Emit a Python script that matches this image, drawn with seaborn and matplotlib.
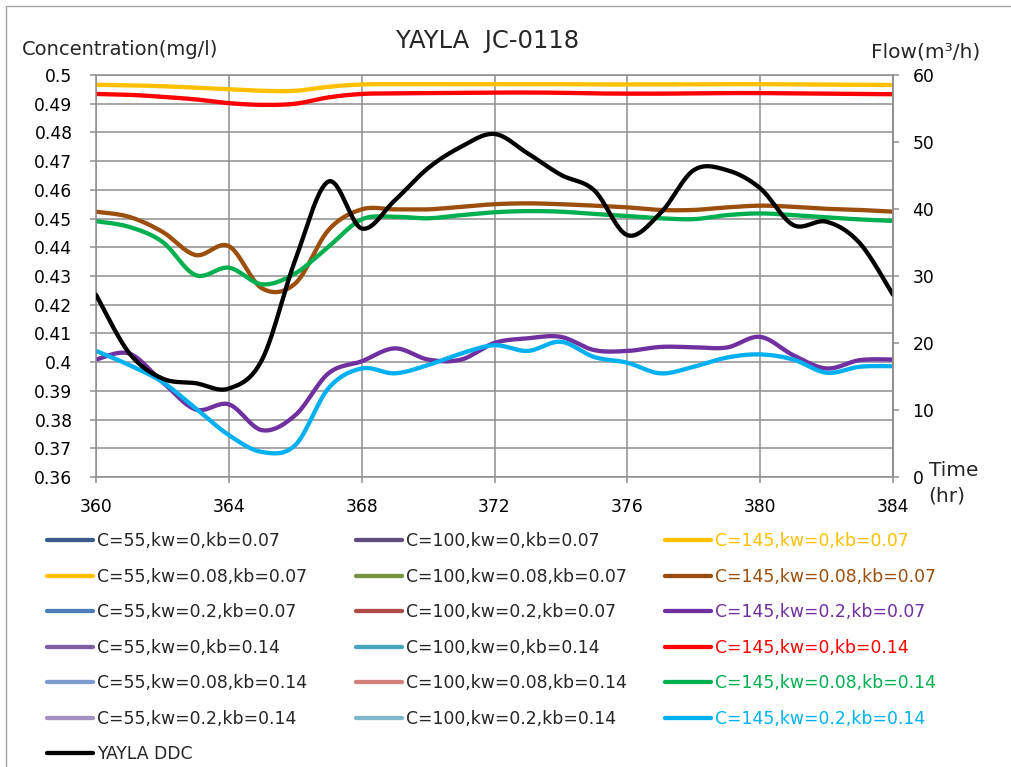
import numpy as np
import matplotlib
matplotlib.use("Agg")
import matplotlib.pyplot as plt
from matplotlib.lines import Line2D
from matplotlib.patches import Rectangle
import seaborn as sns

# ---- data -----------------------------------------------------------------
hours = list(range(360, 385))

c145_kw0_kb007 = [0.4966, 0.4964, 0.4961, 0.4956, 0.4951, 0.4945, 0.4945, 0.4959, 0.4967,
                  0.4968, 0.4968, 0.4968, 0.4968, 0.4968, 0.4968, 0.4967, 0.4967, 0.4967,
                  0.4967, 0.4968, 0.4968, 0.4967, 0.4966, 0.4966, 0.4965]
c145_kw008_kb007 = [0.4524, 0.4506, 0.4454, 0.4373, 0.4404, 0.4257, 0.4274, 0.4460, 0.4532,
                    0.4532, 0.4532, 0.4541, 0.4550, 0.4553, 0.4550, 0.4545, 0.4539, 0.4530,
                    0.4530, 0.4539, 0.4545, 0.4541, 0.4534, 0.4530, 0.4524]
c145_kw02_kb007 = [0.4009, 0.4030, 0.3931, 0.3835, 0.3853, 0.3763, 0.3815, 0.3961, 0.4003,
                   0.4048, 0.4009, 0.4009, 0.4067, 0.4083, 0.4088, 0.4042, 0.4039, 0.4053,
                   0.4052, 0.4051, 0.4088, 0.4024, 0.3978, 0.4007, 0.4009]
c145_kw0_kb014 = [0.4934, 0.4931, 0.4924, 0.4915, 0.4902, 0.4896, 0.4900, 0.4922, 0.4934,
                  0.4936, 0.4937, 0.4938, 0.4939, 0.4939, 0.4938, 0.4936, 0.4935, 0.4935,
                  0.4936, 0.4937, 0.4937, 0.4936, 0.4935, 0.4934, 0.4933]
c145_kw008_kb014 = [0.4491, 0.4471, 0.4419, 0.4303, 0.4329, 0.4271, 0.4309, 0.4402, 0.4497,
                    0.4506, 0.4501, 0.4512, 0.4522, 0.4526, 0.4524, 0.4516, 0.4509, 0.4501,
                    0.4498, 0.4512, 0.4518, 0.4512, 0.4504, 0.4497, 0.4492]
c145_kw02_kb014 = [0.4039, 0.3990, 0.3931, 0.3839, 0.3746, 0.3687, 0.3711, 0.3909, 0.3978,
                   0.3961, 0.3990, 0.4030, 0.4059, 0.4039, 0.4071, 0.4018, 0.3998, 0.3961,
                   0.3984, 0.4016, 0.4027, 0.4009, 0.3963, 0.3984, 0.3986]
yayla_ddc_flow = [27.2, 18.5, 14.7, 14.0, 13.2, 17.5, 32.4, 44.1, 37.1, 41.3, 46.1, 49.3,
                  51.2, 48.3, 45.1, 42.8, 36.1, 39.4, 45.8, 45.8, 43.1, 37.6, 38.1, 34.9, 27.2]

conc_ticks = [0.36, 0.37, 0.38, 0.39, 0.40, 0.41, 0.42, 0.43, 0.44, 0.45, 0.46, 0.47, 0.48, 0.49, 0.50]
conc_tick_labels = ["0.36", "0.37", "0.38", "0.39", "0.4", "0.41", "0.42", "0.43", "0.44",
                    "0.45", "0.46", "0.47", "0.48", "0.49", "0.5"]
flow_ticks = [0, 10, 20, 30, 40, 50, 60]
time_ticks = [360, 364, 368, 372, 376, 380, 384]

labels_c55 = ["C=55,kw=0,kb=0.07", "C=55,kw=0.08,kb=0.07", "C=55,kw=0.2,kb=0.07",
              "C=55,kw=0,kb=0.14", "C=55,kw=0.08,kb=0.14", "C=55,kw=0.2,kb=0.14"]
labels_c100 = ["C=100,kw=0,kb=0.07", "C=100,kw=0.08,kb=0.07", "C=100,kw=0.2,kb=0.07",
               "C=100,kw=0,kb=0.14", "C=100,kw=0.08,kb=0.14", "C=100,kw=0.2,kb=0.14"]
labels_c145 = ["C=145,kw=0,kb=0.07", "C=145,kw=0.08,kb=0.07", "C=145,kw=0.2,kb=0.07",
               "C=145,kw=0,kb=0.14", "C=145,kw=0.08,kb=0.14", "C=145,kw=0.2,kb=0.14"]
label_ddc = "YAYLA DDC"

colors_c55 = ["#3B5B8C", "#FFC000", "#4A7EBB", "#7D60A0", "#7F9BCF", "#A391C0"]
colors_c100 = ["#5F4B80", "#77933C", "#B0494A", "#46A5BF", "#D3807D", "#7FB8CB"]
colors_c145 = ["#FFC000", "#9C4F0C", "#7030A0", "#FF0000", "#00B050", "#00B0F0"]

series_c145 = [c145_kw0_kb007, c145_kw008_kb007, c145_kw02_kb007,
               c145_kw0_kb014, c145_kw008_kb014, c145_kw02_kb014]


def smooth(x, y, steps=24):
    """Smoothed line through the points (cubic Bezier, Catmull-Rom tangents)."""
    x = np.asarray(x, float)
    y = np.asarray(y, float)
    px = np.concatenate([[x[0]], x, [x[-1]]])
    py = np.concatenate([[y[0]], y, [y[-1]]])
    t = np.linspace(0, 1, steps, endpoint=False)
    xs, ys = [], []
    for i in range(1, len(px) - 2):
        for p, out in ((px, xs), (py, ys)):
            p0, p1, p2, p3 = p[i - 1], p[i], p[i + 1], p[i + 2]
            b1 = p1 + (p2 - p0) / 6.0
            b2 = p2 - (p3 - p1) / 6.0
            out.extend((1 - t) ** 3 * p1 + 3 * (1 - t) ** 2 * t * b1
                       + 3 * (1 - t) * t ** 2 * b2 + t ** 3 * p2)
    xs.append(x[-1])
    ys.append(y[-1])
    return np.array(xs), np.array(ys)


# ---- figure ---------------------------------------------------------------
sns.set_style("white")
plt.rcParams["font.family"] = ["DejaVu Sans"]

W, H = 1011, 767
fig = plt.figure(figsize=(W / 100, H / 100), dpi=100)
fig.patch.set_facecolor("white")
fig.add_artist(Rectangle((6 / W, -0.05), 1.2, 1 - 6 / H + 0.05, transform=fig.transFigure,
                         fill=False, edgecolor="#a6a6a6", linewidth=1.0))

ax = fig.add_axes([96 / W, 1 - 477 / H, (893 - 96) / W, (477 - 75) / H])
ax2 = ax.twinx()

grid_col = "#8e8e8e"
lw = 3.1

for vals, col in zip(series_c145, colors_c145):
    sx, sy = smooth(hours, vals)
    sns.lineplot(x=sx, y=sy, ax=ax, color=col, linewidth=lw, estimator=None,
                 sort=False, legend=False)

fx, fy = smooth(hours, yayla_ddc_flow)
sns.lineplot(x=fx, y=fy, ax=ax2, color="black", linewidth=lw, estimator=None,
             sort=False, legend=False)

ax.set_xlim(360, 384)
ax.set_ylim(0.36, 0.50)
ax2.set_ylim(0, 60)
ax.set_xticks(time_ticks)
ax.set_xticklabels([str(t) for t in time_ticks])
ax.set_yticks(conc_ticks)
ax.set_yticklabels(conc_tick_labels)
ax2.set_yticks(flow_ticks)
ax2.set_yticklabels([str(v) for v in flow_ticks])
ax.set_xlabel("")
ax.set_ylabel("")
ax2.set_ylabel("")

ax.grid(True, color=grid_col, linewidth=1.1)
ax2.grid(False)
ax.set_axisbelow(True)
for a in (ax, ax2):
    for s in a.spines.values():
        s.set_color(grid_col)
        s.set_linewidth(1.1)
ax2.spines["top"].set_visible(False)
ax2.spines["left"].set_visible(False)
ax2.spines["bottom"].set_visible(False)

ax.tick_params(axis="y", which="both", left=True, right=False, length=4.5, width=1.1,
               color=grid_col, direction="out", pad=12.5, labelsize=12.3, labelcolor="black")
ax.tick_params(axis="x", bottom=True, length=4.5, width=1.1, color=grid_col,
               direction="out", pad=10.5, labelsize=12.3, labelcolor="black")
ax2.tick_params(axis="y", right=True, length=4.5, width=1.1, color=grid_col,
                direction="out", pad=9.5, labelsize=12.3, labelcolor="black")

# ---- texts ----------------------------------------------------------------
fig.text(488 / W, 1 - 48 / H, "YAYLA  JC-0118", ha="center", va="baseline", fontsize=17.5)
fig.text(22 / W, 1 - 55 / H, "Concentration(mg/l)", ha="left", va="baseline", fontsize=14)
fig.text(871 / W, 1 - 58 / H, "Flow(m\u00b3/h)", ha="left", va="baseline", fontsize=14.5)
fig.text(929 / W, 1 - 476 / H, "Time", ha="left", va="baseline", fontsize=14.5)
fig.text(928 / W, 1 - 501 / H, "(hr)", ha="left", va="baseline", fontsize=14.5)

# ---- legend (three columns) -----------------------------------------------
def handles(labels, colors):
    return [Line2D([], [], color=c, linewidth=lw, label=l) for l, c in zip(labels, colors)]


leg_kw = dict(loc="upper left", bbox_transform=fig.transFigure, frameon=False,
              fontsize=12.4, handlelength=2.65, handletextpad=0.25, labelspacing=1.02,
              borderpad=0, borderaxespad=0)
top = 1 - 532 / H
col1 = handles(labels_c55, colors_c55) + [Line2D([], [], color="black", linewidth=lw,
                                                 label=label_ddc)]
leg1 = fig.legend(handles=col1, bbox_to_anchor=(47 / W, top), **leg_kw)
leg2 = fig.legend(handles=handles(labels_c100, colors_c100), bbox_to_anchor=(356 / W, top),
                  **leg_kw)
leg3 = fig.legend(handles=handles(labels_c145, colors_c145), bbox_to_anchor=(665 / W, top),
                  labelcolor="linecolor", **leg_kw)

fig.savefig("out.png", dpi=100)
